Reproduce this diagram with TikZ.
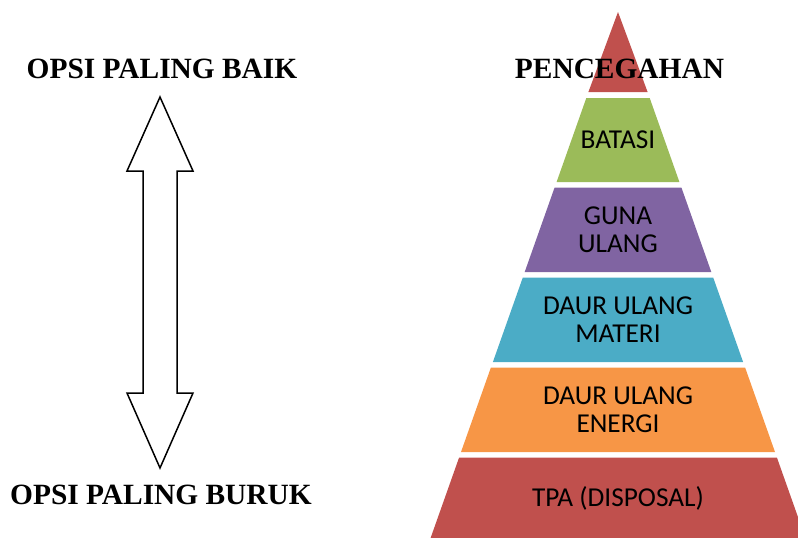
\documentclass[tikz,border=0pt]{standalone}
\usepackage{fontspec}
\setmainfont{Liberation Serif}
\newfontfamily\calib{Carlito}
\definecolor{cRed}{HTML}{C0504D}
\definecolor{cGreen}{HTML}{9BBB59}
\definecolor{cPurple}{HTML}{8064A2}
\definecolor{cAqua}{HTML}{4BACC6}
\definecolor{cOrange}{HTML}{F79646}
\begin{document}
\begin{tikzpicture}[x=1pt,y=-1pt,
  lbl/.style={font=\calib\fontsize{27.3}{28}\selectfont, align=center, text=black, inner sep=0pt},
  ttl/.style={font=\fontsize{29.4}{34}\selectfont\bfseries, anchor=base, inner sep=0pt},
  blockarrow/.style={draw=black, fill=white, line width=1.5pt, line join=miter}]
\useasboundingbox (0,0) rectangle (798,538);
\clip (0,0) rectangle (798,538);

% pyramid layers
\fill[cRed]    (618,12) -- (647.6,92) -- (588.4,92) -- cycle;
\fill[cGreen]  (586.3,98) -- (649.7,98) -- (679.4,182) -- (556.6,182) -- cycle;
\fill[cPurple] (554.6,187.5) -- (681.4,187.5) -- (711.3,272) -- (524.7,272) -- cycle;
\fill[cAqua]   (522.8,277.5) -- (713.2,277.5) -- (743.1,362) -- (492.9,362) -- cycle;
\fill[cOrange] (490.9,367.5) -- (745.1,367.5) -- (775,452) -- (461,452) -- cycle;
\fill[cRed]    (459.1,457.5) -- (776.9,457.5) -- (805.4,538) -- (430.6,538) -- cycle;

\node[lbl] (batasi) at (618,140) {BATASI};
\node[lbl] (guna) at (618,229.5) {GUNA\\ULANG};
\node[lbl] (materi) at (618,320) {DAUR ULANG\\MATERI};
\node[lbl] (energi) at (618,410) {DAUR ULANG\\ENERGI};
\node[lbl] (tpa) at (618,498.5) {TPA (DISPOSAL)};

% titles
\node[ttl] (baik) at (162,78) {OPSI PALING BAIK};
\node[ttl] (buruk) at (161,504) {OPSI PALING BURUK};
\node[ttl] (pencegahan) at (619.5,78) {PENCEGAHAN};

% double block arrow
\draw[blockarrow] (160,97) -- (193,171) -- (177,171) -- (177,393) -- (193,393)
  -- (160,468) -- (127,393) -- (143,393) -- (143,171) -- (127,171) -- cycle;
\end{tikzpicture}
\end{document}
